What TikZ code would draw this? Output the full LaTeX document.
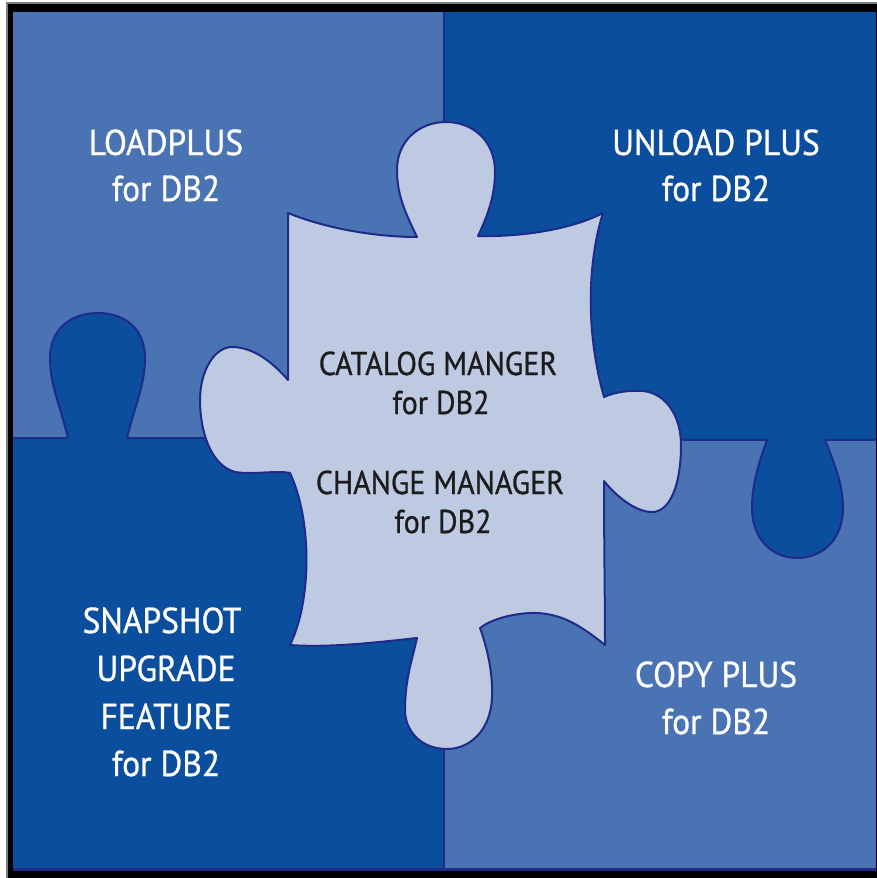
\documentclass[tikz,border=0pt]{standalone}
\usepackage{fontspec}
\setmainfont{PT Sans}
\newfontfamily\qfont[FakeStretch=0.93,FakeBold=0.8]{PT Sans}
\newfontfamily\cfont[FakeStretch=0.91,FakeBold=0.8]{PT Sans}
\definecolor{lightq}{HTML}{4A73B3}
\definecolor{darkq}{HTML}{0B4E9E}
\definecolor{piece}{HTML}{BEC9E2}
\definecolor{navy}{HTML}{1F2B8A}
\definecolor{ink}{HTML}{1C1C1C}
\tikzset{
  qtext/.style={text=white, anchor=base, inner sep=0pt, font=\qfont\fontsize{36}{44}\selectfont},
  ctext/.style={text=ink, anchor=base, inner sep=0pt, font=\cfont\fontsize{33}{40}\selectfont},
  outline/.style={draw=navy, line width=2pt, line join=round},
  divider/.style={draw=navy, line width=2pt}
}
\begin{document}
\begin{tikzpicture}[x=1pt,y=-1pt]
\useasboundingbox (0,0) rectangle (877,878);
\fill[white] (0,0) rectangle (877,878);
\fill[gray] (6,2) rectangle (877,878);
\fill[black] (8,4) rectangle (877,878);
% quadrants
\fill[lightq] (13,12) rectangle (444,439);
\fill[darkq] (444,12) rectangle (876,440);
\fill[darkq] (13,439) rectangle (444,868);
\fill[lightq] (444,440) rectangle (876,868);
\fill[navy] (13,868) rectangle (876,871);
% dividers
\draw[divider] (13,438) -- (68,438);
\draw[divider] (127,438) -- (444,439) -- (767,440);
\draw[divider] (825,440) -- (876,440);
\draw[divider] (444,12) -- (444,868);
% left knob (dark into top-left)
\fill[darkq] (68,439) .. controls (60,405) and (50,385) .. (50,358) .. controls (50,328) and (72,313) .. (98,313) .. controls (124,313) and (145,328) .. (145,358) .. controls (145,385) and (135,405) .. (127,439) -- cycle;
\draw[outline] (68,438) .. controls (60,405) and (50,385) .. (50,358) .. controls (50,328) and (72,313) .. (98,313) .. controls (124,313) and (145,328) .. (145,358) .. controls (145,385) and (135,405) .. (127,438);
% right knob (dark into bottom-right)
\fill[darkq] (767,439) .. controls (758,465) and (752,485) .. (752,508) .. controls (752,540) and (773,558) .. (797,558) .. controls (822,558) and (843,540) .. (843,508) .. controls (843,485) and (835,465) .. (825,439) -- cycle;
\draw[outline] (767,440) .. controls (758,465) and (752,485) .. (752,508) .. controls (752,540) and (773,558) .. (797,558) .. controls (822,558) and (843,540) .. (843,508) .. controls (843,485) and (835,465) .. (825,440);
% centre piece
\draw[outline, fill=piece]
  (288,213) .. controls (330,230) and (380,237) .. (417,237)
  .. controls (405,212) and (397,195) .. (397,170)
  .. controls (397,140) and (420,122) .. (446,122)
  .. controls (472,122) and (495,140) .. (495,172)
  .. controls (495,195) and (488,215) .. (478,236)
  .. controls (520,237) and (570,230) .. (603,213)
  .. controls (588,260) and (585,330) .. (604,397)
  .. controls (615,392) and (630,390) .. (643,391)
  .. controls (665,393) and (681,415) .. (681,445)
  .. controls (681,485) and (670,512) .. (652,512)
  .. controls (635,512) and (615,495) .. (604,481)
  .. controls (604,540) and (605,600) .. (605,645)
  .. controls (580,625) and (560,612) .. (530,613)
  .. controls (510,614) and (490,620) .. (480,628)
  .. controls (488,650) and (493,675) .. (492,697)
  .. controls (491,730) and (470,749) .. (447,749)
  .. controls (420,749) and (405,730) .. (405,710)
  .. controls (405,680) and (412,660) .. (417,638)
  .. controls (380,642) and (330,648) .. (290,645)
  .. controls (312,600) and (312,520) .. (290,473)
  .. controls (275,470) and (255,475) .. (235,472)
  .. controls (210,465) and (200,430) .. (200,400)
  .. controls (200,370) and (215,347) .. (232,347)
  .. controls (255,347) and (275,365) .. (288,380)
  -- cycle;
% texts
\node[qtext] (lp1) at (166,155) {LOADPLUS};
\node[qtext] (lp2) at (166,201) {for DB2};
\node[qtext] (ul1) at (716,155) {UNLOAD PLUS};
\node[qtext] (ul2) at (716,201) {for DB2};
\node[ctext] (cm1) at (438,375) {CATALOG MANGER};
\node[ctext] (cm2) at (441,414) {for DB2};
\node[ctext] (ch1) at (440,494) {CHANGE MANAGER};
\node[ctext] (ch2) at (443,533) {for DB2};
\node[qtext] (sn1) at (162,633) {SNAPSHOT};
\node[qtext] (sn2) at (166,681) {UPGRADE};
\node[qtext] (sn3) at (166,729) {FEATURE};
\node[qtext] (sn4) at (166,776) {for DB2};
\node[qtext] (cp1) at (716,687) {COPY PLUS};
\node[qtext] (cp2) at (716,734) {for DB2};
\end{tikzpicture}
\end{document}
